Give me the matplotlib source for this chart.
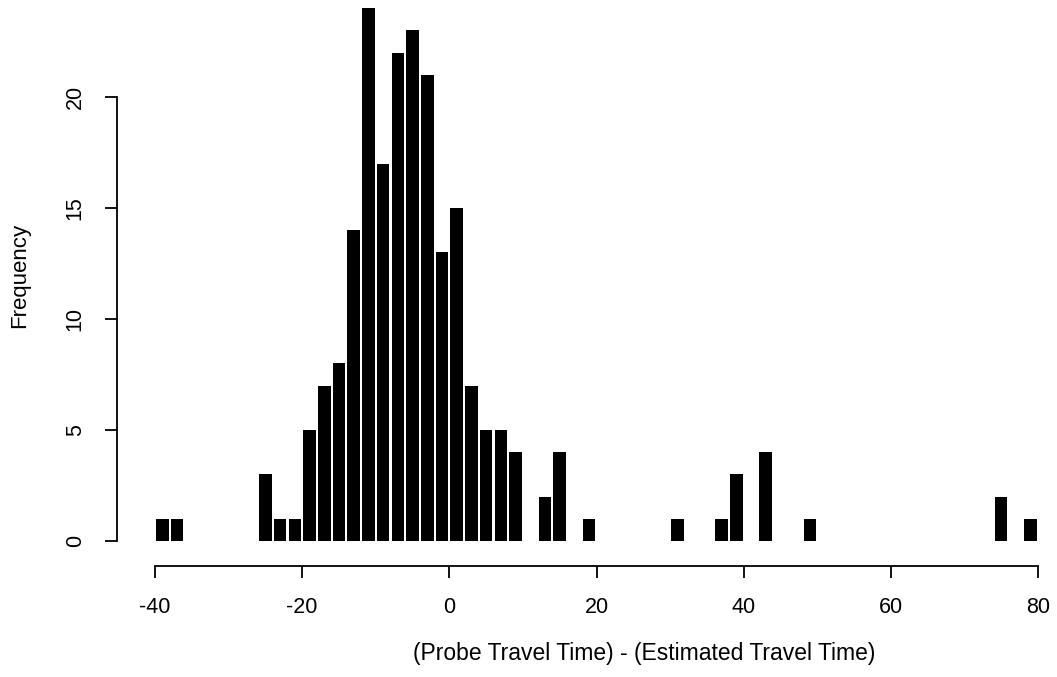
import numpy as np
import matplotlib.pyplot as plt

plt.rcParams['font.family'] = ['Liberation Sans', 'DejaVu Sans']
plt.rcParams['axes.unicode_minus'] = False

# histogram of travel-time differences, bins of width 2 from -40 to 80
bin_edges = np.arange(-40, 82, 2)
counts = [1, 1, 0, 0, 0, 0, 0, 3, 1, 1,      # -40 .. -20
          5, 7, 8, 14, 24, 17, 22, 23, 21, 13,  # -20 .. 0
          15, 7, 5, 5, 4, 0, 2, 4, 0, 1,       # 0 .. 20
          0, 0, 0, 0, 0, 1, 0, 0, 1, 3,        # 20 .. 40
          0, 4, 0, 0, 1, 0, 0, 0, 0, 0,        # 40 .. 60
          0, 0, 0, 0, 0, 0, 0, 2, 0, 1]        # 60 .. 80
xticks = [-40, -20, 0, 20, 40, 60, 80]
yticks = [0, 5, 10, 15, 20]

centers = (bin_edges[:-1] + bin_edges[1:]) / 2

fig = plt.figure(figsize=(10.57, 6.77), dpi=100)
W, H = 1057, 677
ax = fig.add_axes([130 / W, (H - 550) / H, 920 / W, 545 / H])

ax.bar(centers, counts, width=1.7, color='black', edgecolor='none')

ax.set_xlim(-43.40, 81.63)
ax.set_ylim(-0.405, 24.14)

for s in ['top', 'right']:
    ax.spines[s].set_visible(False)
ax.spines['left'].set_position(('outward', 9.4))
ax.spines['bottom'].set_position(('outward', 11.5))
ax.spines['left'].set_bounds(0, 20)
ax.spines['bottom'].set_bounds(-40, 80)
ax.spines['left'].set_linewidth(1.3)
ax.spines['bottom'].set_linewidth(1.3)

ax.set_xticks(xticks)
ax.set_yticks(yticks)
ax.tick_params(axis='both', length=8.5, width=1.3, labelsize=15.5)
ax.tick_params(axis='x', pad=14)
ax.tick_params(axis='y', pad=14, labelrotation=90)
for lab in ax.get_yticklabels():
    lab.set_va('center')

ax.set_xlabel('(Probe Travel Time) - (Estimated Travel Time)', fontsize=16.5)
ax.set_ylabel('Frequency', fontsize=16)
ax.xaxis.set_label_coords((644 - 130) / 920, (550 - 642) / 545)
ax.yaxis.set_label_coords((30 - 130) / 920, (550 - 275) / 545)

fig.savefig('out.png', dpi=100)
